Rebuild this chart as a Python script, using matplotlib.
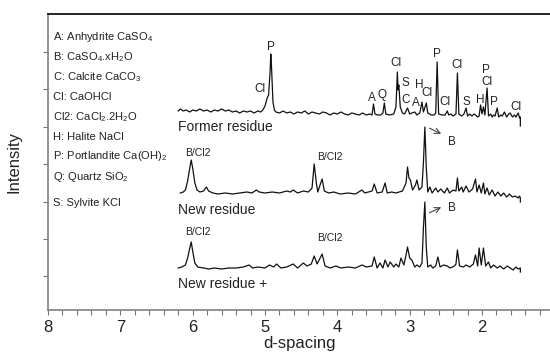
import numpy as np
import matplotlib
matplotlib.use('Agg')
from matplotlib import pyplot as plt
from matplotlib.ticker import MultipleLocator

plt.rcParams['font.family'] = ['Liberation Sans', 'DejaVu Sans']
plt.rcParams['mathtext.fontset'] = 'custom'
plt.rcParams['mathtext.rm'] = 'Liberation Sans'
plt.rcParams['mathtext.it'] = 'Liberation Sans:italic'

# ---- traces: d-spacing and intensity above own baseline (a.u.)
former_d = [6.20, 6.17, 6.13, 6.09, 6.04, 6.00, 5.95, 5.90, 5.85, 5.80, 5.75, 5.70, 5.65, 5.60,
            5.55, 5.50, 5.45, 5.40, 5.35, 5.30, 5.25, 5.20, 5.15, 5.10, 5.06, 5.03, 5.00, 4.97,
            4.95, 4.93, 4.92, 4.91, 4.89, 4.87, 4.85, 4.80, 4.75, 4.70, 4.65, 4.60, 4.55, 4.50,
            4.45, 4.40, 4.35, 4.30, 4.25, 4.20, 4.15, 4.10, 4.05, 4.00, 3.95, 3.90, 3.85, 3.80,
            3.75, 3.70, 3.65, 3.60, 3.55, 3.52, 3.50, 3.48, 3.44, 3.40, 3.37, 3.35, 3.33, 3.28,
            3.22, 3.19, 3.17, 3.16, 3.15, 3.13, 3.10, 3.07, 3.03, 3.00, 2.97, 2.93, 2.90, 2.86,
            2.83, 2.81, 2.77, 2.75, 2.70, 2.66, 2.64, 2.62, 2.60, 2.55, 2.51, 2.48, 2.46, 2.43,
            2.40, 2.36, 2.34, 2.32, 2.28, 2.25, 2.22, 2.20, 2.17, 2.14, 2.11, 2.09, 2.06, 2.04,
            2.02, 2.00, 1.98, 1.96, 1.93, 1.91, 1.88, 1.86, 1.84, 1.82, 1.79, 1.77, 1.74, 1.72,
            1.69, 1.66, 1.63, 1.61, 1.58, 1.55, 1.53, 1.50, 1.48, 1.47, 1.47]
former_i = [1, 3, 1, 2, 0, 2, 1, 3, 1, 2, 0, 2, 1, 3,
            1, 2, 0, 1, -1, 1, 0, 1, -1, 1, 0, 2, 6, 14,
            17, 40, 58, 45, 10, 2, 0, -1, 1, -1, 0, -2, 0, -1,
            1, -2, 0, -1, -2, 0, -1, -3, -1, -2, 0, -2, -3, -1,
            -2, -3, -1, -3, -2, -3, 8, -2, -3, -3, -1, 9, -2, -3,
            -2, 5, 40, 22, 27, 5, -1, -2, 4, -2, -1, 0, -3, -1,
            10, 0, 9, -1, -3, -3, -1, 50, -2, -3, -3, 1, -3, -2,
            -4, -2, 39, -2, -4, -2, 4, -4, -2, -4, -2, -3, -5, -4,
            7, -2, 5, -3, 24, -4, -2, -5, -3, -4, 4, -5, -3, -4,
            0, -5, -2, -1, -5, -3, -5, -1, -6, -5, -14]

new_d = [6.17, 6.13, 6.10, 6.07, 6.04, 6.02, 6.00, 5.97, 5.94, 5.90, 5.85, 5.81, 5.78, 5.72,
         5.65, 5.55, 5.45, 5.35, 5.25, 5.18, 5.12, 5.08, 5.00, 4.90, 4.80, 4.70, 4.65, 4.61,
         4.55, 4.47, 4.40, 4.35, 4.32, 4.29, 4.27, 4.23, 4.21, 4.18, 4.12, 4.05, 3.96, 3.85,
         3.75, 3.66, 3.62, 3.52, 3.49, 3.45, 3.38, 3.34, 3.31, 3.25, 3.19, 3.10, 3.05, 3.03,
         3.01, 2.99, 2.96, 2.92, 2.90, 2.87, 2.83, 2.81, 2.79, 2.77, 2.75, 2.72, 2.69, 2.64,
         2.61, 2.57, 2.52, 2.48, 2.45, 2.40, 2.36, 2.34, 2.32, 2.28, 2.26, 2.22, 2.18, 2.13,
         2.09, 2.07, 2.04, 2.01, 1.98, 1.96, 1.93, 1.90, 1.86, 1.82, 1.78, 1.74, 1.70, 1.66,
         1.62, 1.58, 1.54, 1.50, 1.48, 1.47, 1.47]
new_i = [0, 1, 3, 12, 25, 33, 25, 10, 3, 1, 2, 6, 2, 0,
         -1, 0, -1, 0, 1, 0, 3, 1, 0, 1, 0, 2, 1, 3,
         0, 2, 1, 5, 29, 10, 1, 10, 14, 2, 0, 1, -1, 0,
         -1, 3, 0, 2, 9, 0, 1, 10, 0, 1, 0, 2, 10, 26,
         15, 13, 3, 8, 13, 3, 6, 30, 66, 25, 1, 6, 0, 5,
         1, 4, 0, 5, 0, 3, 2, 15, 2, 6, 1, 7, 1, 4,
         14, 1, 8, 0, 10, -1, 5, -2, 3, -3, 1, -3, 0, -4,
         -1, -4, -3, -5, -3, -5, -9]

plus_d = [6.20, 6.15, 6.10, 6.07, 6.04, 6.02, 6.00, 5.97, 5.93, 5.85, 5.78, 5.70, 5.60, 5.50,
          5.40, 5.30, 5.22, 5.17, 5.10, 5.00, 4.94, 4.88, 4.84, 4.78, 4.70, 4.61, 4.55, 4.47,
          4.42, 4.36, 4.32, 4.28, 4.21, 4.17, 4.10, 4.02, 3.95, 3.85, 3.75, 3.66, 3.60, 3.52,
          3.49, 3.45, 3.41, 3.37, 3.34, 3.30, 3.27, 3.22, 3.19, 3.15, 3.12, 3.08, 3.05, 3.03,
          3.00, 2.97, 2.93, 2.90, 2.86, 2.83, 2.81, 2.79, 2.77, 2.75, 2.71, 2.68, 2.64, 2.61,
          2.58, 2.53, 2.48, 2.44, 2.38, 2.36, 2.34, 2.31, 2.26, 2.22, 2.17, 2.12, 2.09, 2.06,
          2.04, 2.01, 1.98, 1.95, 1.91, 1.88, 1.84, 1.79, 1.75, 1.70, 1.65, 1.61, 1.57, 1.53,
          1.50, 1.47, 1.47]
plus_i = [0, 1, 3, 10, 20, 26, 17, 5, 1, 0, -1, 0, -1, 0,
          0, 1, 3, 0, 1, 0, 3, 1, 4, 0, 1, 4, 0, 5,
          2, 4, 12, 4, 14, 2, 0, 2, 0, 1, 0, 3, 1, 2,
          11, 0, 5, 0, 8, 1, 6, 1, 4, 1, 10, 3, 13, 21,
          10, 8, 1, 3, 1, 5, 40, 66, 20, 1, 3, 0, 2, 11,
          1, 3, 2, 0, 2, 4, 18, 2, 1, 3, 1, 4, 13, 2,
          20, 3, 20, 2, 6, 0, 3, 0, 2, -1, 2, 0, -2, 1,
          -1, 0, -4]

sample_names = ['Former residue', 'New residue', 'New residue +']

phase_key = ['A: Anhydrite CaSO$_4$', 'B: CaSO$_4$.xH$_2$O', 'C: Calcite CaCO$_3$',
             'Cl: CaOHCl', 'Cl2: CaCl$_2$.2H$_2$O', 'H: Halite NaCl',
             'P: Portlandite Ca(OH)$_2$', 'Q: Quartz SiO$_2$', 'S: Sylvite KCl']

# peak labels on the former residue: (label, d-spacing)
former_tags = ['Cl', 'P', 'A', 'Q', 'Cl', 'S', 'C', 'A', 'H', 'Cl', 'P', 'Cl', 'Cl',
               'S', 'H', 'P', 'Cl', 'P', 'Cl']
former_tag_d = [5.07, 4.92, 3.52, 3.38, 3.19, 3.06, 3.05, 2.92, 2.87, 2.76, 2.62, 2.51, 2.34,
                2.22, 2.02, 1.94, 1.93, 1.83, 1.53]

# ---- layout
offsets = [198, 117, 42]
former_tag_y = [221, 263, 212, 215, 247, 227, 210, 207, 225, 217, 256, 208, 245,
                208, 210, 240, 228, 208, 203]
key_y = [273, 253, 233, 213, 193, 173, 154, 133, 107]
name_y = [183, 100, 26]

fig = plt.figure(figsize=(5.5, 3.56), dpi=100)
ax = fig.add_axes([48/550, 46/356, 502/550, 296/356])

line_col = '#111111'
traces = [(former_d, former_i), (new_d, new_i), (plus_d, plus_i)]
for (d, inten), off in zip(traces, offsets):
    ax.plot(d, np.array(inten) + off, color=line_col, lw=0.9)

txt_col = '#222222'
for name, y in zip(sample_names, name_y):
    ax.text(6.20, y, name, fontsize=10, color=txt_col, va='center', ha='left')

for lab, y in zip(phase_key, key_y):
    ax.text(7.93, y, lab, fontsize=8, color=txt_col, va='center', ha='left')

for lab, d, y in zip(former_tags, former_tag_d, former_tag_y):
    ax.text(d, y, lab, fontsize=8.5, color=txt_col, va='center', ha='center')

# B/Cl2 tags on the new residues
for y1, y2 in [(157, 153), (78, 72)]:
    ax.text(5.93, y1, 'B/Cl2', fontsize=7.5, color=txt_col, va='center', ha='center')
    ax.text(4.11, y2, 'B/Cl2', fontsize=7.5, color=txt_col, va='center', ha='center')

# arrows to B
ax.annotate('', xy=(2.53, 175), xytext=(2.76, 183),
            arrowprops=dict(arrowstyle='->', color='#444444', lw=0.8))
ax.text(2.42, 168, 'B', fontsize=8.5, color=txt_col, va='center', ha='center')
ax.annotate('', xy=(2.53, 104), xytext=(2.76, 96),
            arrowprops=dict(arrowstyle='->', color='#444444', lw=0.8))
ax.text(2.42, 102, 'B', fontsize=8.5, color=txt_col, va='center', ha='center')

ax.set_xlim(8, 1.06)
ax.set_ylim(0, 296)
ax.xaxis.set_major_locator(MultipleLocator(1))
ax.xaxis.set_minor_locator(MultipleLocator(0.2))
ax.set_yticks([34, 71, 108, 146, 183, 221, 258])
ax.set_yticklabels([])
ax.tick_params(axis='both', which='both', direction='out', length=3.5, width=0.8,
               color='#777777', labelsize=12, labelcolor=txt_col)

ax.spines['right'].set_visible(False)
ax.spines['top'].set_color('black')
ax.spines['top'].set_linewidth(1.2)
for s in ['left', 'bottom']:
    ax.spines[s].set_color('#808080')
    ax.spines[s].set_linewidth(1.2)

ax.set_xlabel('d-spacing', fontsize=12, color=txt_col, labelpad=1)
ax.set_ylabel('Intensity', fontsize=12, color=txt_col, labelpad=12)

plt.savefig('out.png', dpi=100)
plt.close()
